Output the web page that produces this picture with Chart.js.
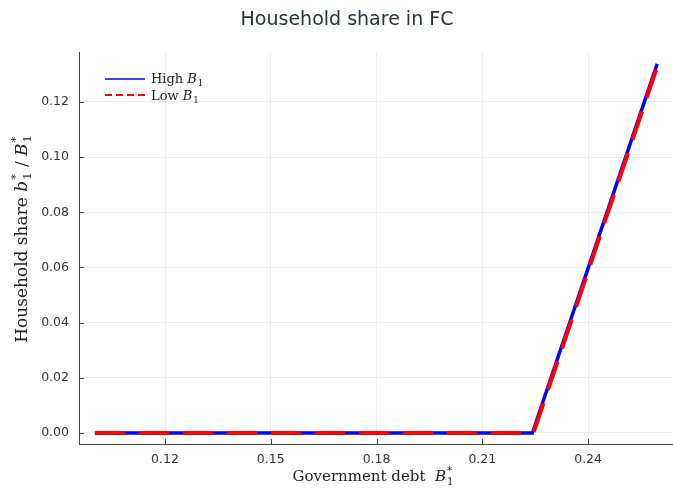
<!DOCTYPE html>
<html>
<head>
<meta charset="utf-8">
<script src="https://cdn.jsdelivr.net/npm/chart.js@4"></script>
<style>
html,body{margin:0;padding:0;background:#fff;}
#wrap{width:673px;height:489px;position:relative;}
</style>
</head>
<body>
<div id="wrap"><canvas id="c" width="673" height="489"></canvas></div>
<script>
// ---- data ----
const debtHigh = [0.1001, 0.2242, 0.2596];
const shareHigh = [0.0, 0.0, 0.1338];
const debtLow = [0.1001, 0.2245, 0.2596];
const shareLow = [0.0, 0.0, 0.1328];
const xTicks = [0.12, 0.15, 0.18, 0.21, 0.24];
const yTicks = [0.00, 0.02, 0.04, 0.06, 0.08, 0.10, 0.12];
const seriesNames = ["High", "Low"];
const titleText = "Household share in FC";

const SERIF = "'DejaVu Serif', 'Liberation Serif', serif";
const SANS = "'DejaVu Sans', sans-serif";

function toPts(xs, ys){ return xs.map((x,i)=>({x:x, y:ys[i]})); }

// draw rich text segments; returns width
function drawRich(ctx, segs, x, y, size, measureOnly){
  let cx = x;
  for (const s of segs){
    if (s.stack){ // subscript + superscript stacked
      const fs = size*0.68;
      ctx.font = fs + "px " + SERIF;
      const w1 = s.sub ? ctx.measureText(s.sub).width : 0;
      const w2 = s.sup ? ctx.measureText(s.sup).width : 0;
      if(!measureOnly){
        if (s.sub) ctx.fillText(s.sub, cx + 1, y + size*0.25);
        if (s.sup) ctx.fillText(s.sup, cx + 1, y - size*0.45);
      }
      cx += Math.max(w1,w2) + 1;
      continue;
    }
    ctx.font = (s.it ? "italic " : "") + size + "px " + SERIF;
    if(!measureOnly) ctx.fillText(s.t, cx, y);
    cx += ctx.measureText(s.t).width;
  }
  return cx - x;
}

const decoPlugin = {
  id: 'deco',
  afterDraw(chart){
    const ctx = chart.ctx;
    const xs = chart.scales.x, ys = chart.scales.y;
    const a = chart.chartArea;
    ctx.save();
    // inward ticks
    ctx.strokeStyle = '#444';
    ctx.lineWidth = 1;
    ctx.beginPath();
    xTicks.forEach(v=>{ const px = Math.round(xs.getPixelForValue(v))+0.5; ctx.moveTo(px, a.bottom); ctx.lineTo(px, a.bottom-5); });
    yTicks.forEach(v=>{ const py = Math.round(ys.getPixelForValue(v))+0.5; ctx.moveTo(a.left, py); ctx.lineTo(a.left+5, py); });
    ctx.stroke();

    // title
    ctx.fillStyle = '#26343c';
    ctx.font = "19px " + SANS;
    ctx.textAlign = 'center';
    ctx.textBaseline = 'alphabetic';
    ctx.fillText(titleText, 347, 25);

    ctx.textAlign = 'left';
    ctx.fillStyle = '#222';
    // x axis title
    const xseg = [{t:"Government debt  "},{t:"B",it:true},{stack:true,sub:"1",sup:"*"}];
    const xw = drawRich(ctx, xseg, 0, 0, 15, true);
    drawRich(ctx, xseg, 373 - xw/2, 481, 15, false);

    // y axis title (rotated)
    const yseg = [{t:"Household share "},{t:"b",it:true},{stack:true,sub:"1",sup:"*"},{t:" / "},{t:"B",it:true},{stack:true,sub:"1",sup:"*"}];
    const yw = drawRich(ctx, yseg, 0, 0, 17, true);
    ctx.save();
    ctx.translate(27, 239);
    ctx.rotate(-Math.PI/2);
    drawRich(ctx, yseg, -yw/2, 0, 17, false);
    ctx.restore();

    // legend
    const lx0 = 105, lx1 = 145;
    ctx.lineWidth = 1.6;
    ctx.strokeStyle = '#0000ff';
    ctx.setLineDash([]);
    ctx.beginPath(); ctx.moveTo(lx0, 79); ctx.lineTo(lx1, 79); ctx.stroke();
    ctx.strokeStyle = '#ff0000';
    ctx.lineWidth = 2;
    ctx.setLineDash([7,4]);
    ctx.beginPath(); ctx.moveTo(lx0, 95); ctx.lineTo(lx1, 95); ctx.stroke();
    ctx.setLineDash([]);
    ctx.fillStyle = '#222';
    const legY = [83, 100];
    seriesNames.forEach((nm, i) => {
      drawRich(ctx, [{t:nm+" "},{t:"B",it:true},{stack:true,sub:"1",sup:""}], 151, legY[i], 13, false);
    });
    ctx.restore();
  }
};

new Chart(document.getElementById('c'), {
  type: 'line',
  data: {
    datasets: [
      { label: 'High', data: toPts(debtHigh, shareHigh), borderColor: '#0000ff', borderWidth: 3.5, pointRadius: 0, fill: false, tension: 0, order: 2 },
      { label: 'Low', data: toPts(debtLow, shareLow), borderColor: '#ff0000', borderWidth: 4, borderDash: [30,14], pointRadius: 0, fill: false, tension: 0, order: 1 }
    ]
  },
  options: {
    responsive: false,
    animation: false,
    devicePixelRatio: 1,
    layout: { padding: { top: 52, right: 1, left: 0, bottom: 0 } },
    plugins: { legend: { display: false }, title: { display: false }, tooltip: { enabled: false } },
    scales: {
      x: {
        type: 'linear', min: 0.0956, max: 0.2638,
        afterBuildTicks: s => { s.ticks = xTicks.map(v=>({value:v})); },
        afterFit: s => { s.height = 45; },
        ticks: { callback: v => v.toFixed(2), color: '#333', font: { family: SANS, size: 12.5 }, padding: 8, maxRotation: 0 },
        grid: { color: 'rgba(0,0,0,0.07)', drawTicks: false },
        border: { color: '#444', width: 1 }
      },
      y: {
        type: 'linear', min: -0.00399, max: 0.1381,
        afterBuildTicks: s => { s.ticks = yTicks.map(v=>({value:v})); },
        afterFit: s => { s.width = 79; },
        ticks: { callback: v => v.toFixed(2), color: '#333', font: { family: SANS, size: 12.5 }, padding: 10 },
        grid: { color: 'rgba(0,0,0,0.07)', drawTicks: false },
        border: { color: '#444', width: 1 }
      }
    }
  },
  plugins: [decoPlugin]
});
</script>
</body>
</html>
